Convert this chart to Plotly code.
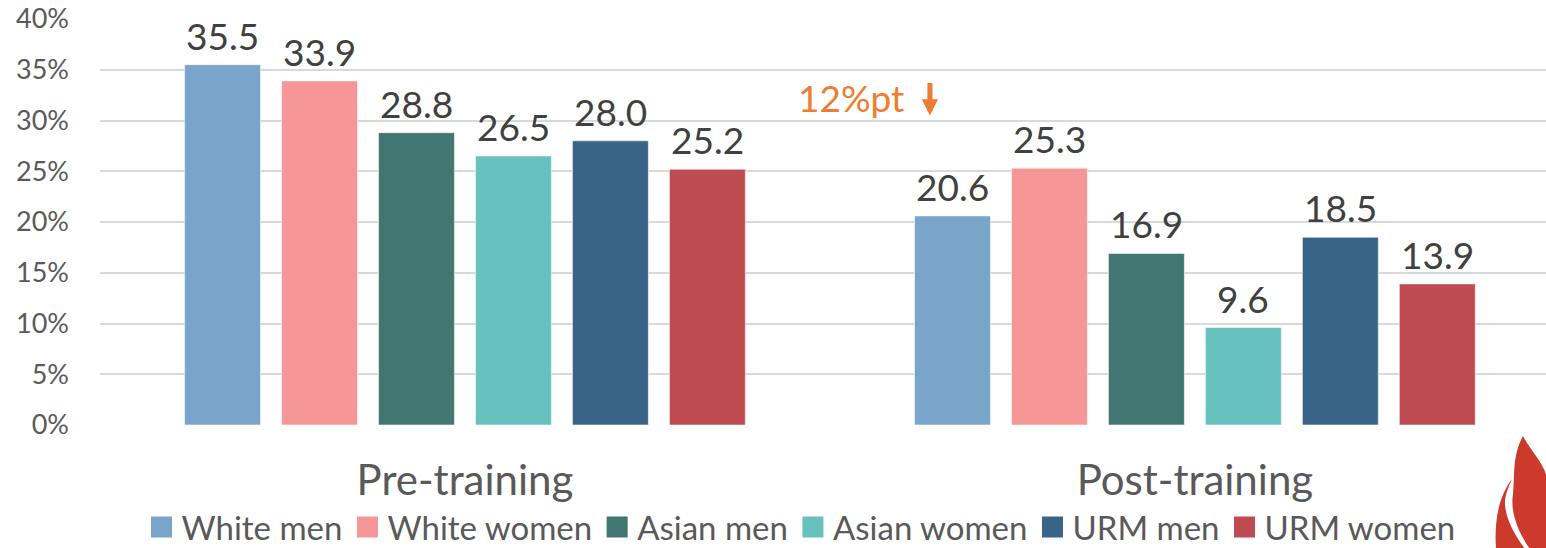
import plotly.graph_objects as go

# Share of respondents, by group, before and after training (%)
phases = ["Pre-training", "Post-training"]
groups = ["White men", "White women", "Asian men", "Asian women", "URM men", "URM women"]
pre_values = [35.5, 33.9, 28.8, 26.5, 28.0, 25.2]
post_values = [20.6, 25.3, 16.9, 9.6, 18.5, 13.9]
colors = ["#78A5C9", "#F69697", "#427673", "#67C1BD", "#386587", "#BD4B51"]
y_ticks = [0, 5, 10, 15, 20, 25, 30, 35, 40]
drop_note = "12%pt"

FONT = "Lato, 'Source Sans Pro', sans-serif"
W, H = 1546, 548
ML, MR, MT, MB = 100, 0, 19, 123
BARGAP, BARGROUPGAP = 0.203, 0.217

fig = go.Figure()

n = len(groups)
slot = (1 - BARGAP) / n  # width of one bar slot within a category

for i, (name, pre, post, color) in enumerate(zip(groups, pre_values, post_values, colors)):
    vals = [pre, post]
    fig.add_trace(go.Bar(
        x=phases, y=[v / 100 for v in vals], name=name,
        marker=dict(color=color, line=dict(color="rgba(255,255,255,0.55)", width=1)),
        showlegend=False, hoverinfo="skip",
    ))
    # value labels above each bar
    for k, v in enumerate(vals):
        fig.add_annotation(
            x=k + (i - (n - 1) / 2) * slot, y=v / 100, xref="x", yref="y",
            text=f"{v:.1f}", showarrow=False, yanchor="bottom", yshift=5,
            font=dict(family=FONT, size=37, color="#404040"),
        )
    # legend swatch
    fig.add_trace(go.Scatter(
        x=[None], y=[None], mode="markers", name=name,
        marker=dict(symbol="square", size=16, color=color,
                    line=dict(color=color, width=5)),
        showlegend=True, hoverinfo="skip",
    ))

# flame emblem in the lower-right corner (pixel coordinates -> paper)
plot_w = W - ML - MR
plot_h = H - MT - MB


def px(x, y):
    return f"{(x - ML) / plot_w:.5f},{(H - MB - y) / plot_h:.5f}"


flame_big = (f"M{px(1523,436)} C{px(1533,455)} {px(1547,466)} {px(1547,482)} "
             f"L{px(1547,549)} L{px(1530,549)} "
             f"C{px(1518,532)} {px(1510,512)} {px(1513,494)} "
             f"C{px(1515,476)} {px(1512,456)} {px(1523,436)} Z")
flame_small = (f"M{px(1512,479)} C{px(1499,496)} {px(1494,520)} {px(1496,549)} "
               f"L{px(1525,549)} C{px(1513,533)} {px(1504,515)} {px(1505,500)} "
               f"C{px(1506,492)} {px(1509,486)} {px(1512,479)} Z")
for path in (flame_big, flame_small):
    fig.add_shape(type="path", xref="paper", yref="paper", path=path,
                  fillcolor="#CB3A2A", line=dict(width=0), layer="above")

# drop callout: label plus a down arrow
fig.add_annotation(
    x=0.604, y=0.323, xref="x", yref="y", text=drop_note, showarrow=False,
    xanchor="right", font=dict(family=FONT, size=37, color="#ED7D31"),
)
fig.add_annotation(
    x=0.637, y=0.305, xref="x", yref="y", text="", showarrow=True,
    ax=0, ay=-34, arrowhead=2, arrowsize=0.65, arrowwidth=5, arrowcolor="#ED7D31",
)

fig.update_layout(
    width=W, height=H, autosize=False,
    margin=dict(l=ML, r=MR, t=MT, b=MB, pad=0, autoexpand=False),
    paper_bgcolor="white", plot_bgcolor="white",
    barmode="group", bargap=BARGAP, bargroupgap=BARGROUPGAP,
    font=dict(family=FONT, color="#595959"),
    legend=dict(
        orientation="h", x=0.4848, xanchor="center",
        yref="container", y=21 / H, yanchor="middle",
        font=dict(family=FONT, size=33, color="#595959"),
        itemclick=False, itemdoubleclick=False, traceorder="normal",
        bgcolor="rgba(0,0,0,0)",
    ),
    xaxis=dict(
        type="category", range=[-0.5, 1.481], showgrid=False, zeroline=False,
        showline=False, ticks="", ticklabelstandoff=27,
        tickfont=dict(family=FONT, size=42, color="#595959"),
    ),
    yaxis=dict(
        range=[0, 0.40], tickvals=[v / 100 for v in y_ticks],
        ticktext=[f"{v}%" for v in y_ticks],
        showgrid=True, gridcolor="#D9D9D9", gridwidth=2,
        zeroline=False, showline=False, ticks="", ticklabelstandoff=30,
        tickfont=dict(family=FONT, size=27, color="#595959"),
    ),
)

fig.write_html("out.html")
